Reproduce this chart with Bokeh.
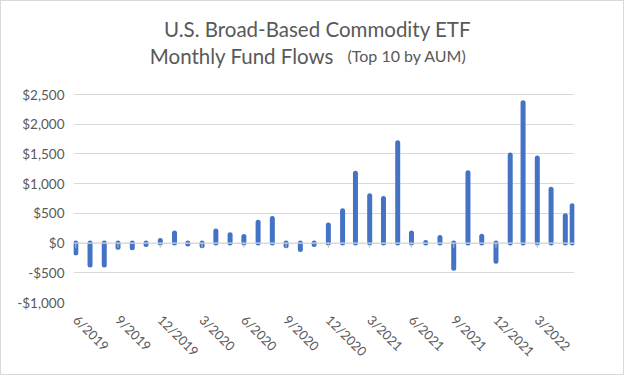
import math
import pandas as pd
from bokeh.plotting import figure
from bokeh.models import Range1d, FixedTicker, NumeralTickFormatter, Span, Label
from bokeh.embed import file_html
from bokeh.resources import INLINE

# ---- data ----
dates = ["2019-06-30", "2019-07-31", "2019-08-31", "2019-09-30", "2019-10-31", "2019-11-30", "2019-12-31",
         "2020-01-31", "2020-02-29", "2020-03-31", "2020-04-30", "2020-05-31", "2020-06-30", "2020-07-31",
         "2020-08-31", "2020-09-30", "2020-10-31", "2020-11-30", "2020-12-31", "2021-01-31", "2021-02-28",
         "2021-03-31", "2021-04-30", "2021-05-31", "2021-06-30", "2021-07-31", "2021-08-31", "2021-09-30",
         "2021-10-31", "2021-11-30", "2021-12-31", "2022-01-31", "2022-02-28", "2022-03-31", "2022-04-30",
         "2022-05-31", "2022-06-15"]
flows = [-165, -370, -370, -70, -80, -25, 45, 170, -15, -45, 205, 140, 110, 350, 415, -45, -110, -25,
         305, 545, 1175, 795, 750, 1690, 170, 10, 95, -425, 1185, 115, -305, 1480, 2360, 1430, 905, 460, 630]
tick_labels = ["6/2019", "9/2019", "12/2019", "3/2020", "6/2020", "9/2020", "12/2020",
               "3/2021", "6/2021", "9/2021", "12/2021", "3/2022"]
y_ticks = [-1000, -500, 0, 500, 1000, 1500, 2000, 2500]

title1 = "U.S. Broad-Based Commodity ETF"
title2a = "Monthly Fund Flows"
title2b = "(Top 10 by AUM)"

# ---- derived ----
d = pd.to_datetime(dates)
xdays = [int((t - d[0]).days) for t in d]
tick_pos = xdays[::3][:len(tick_labels)]

BLUE = "#4472C4"
GRID = "#d9d9d9"
TXT = "#595959"
FONT = "Lato"

# layout: frame reaches the top so the title can sit inside it
FRAME_H = 301
Y_MIN, Y_MAX_TICK = -1000, 2500
px_per_unit = 208 / (Y_MAX_TICK - Y_MIN)
y_top = Y_MAX_TICK + 93 / px_per_unit

pad = 5
p = figure(output_backend="svg", toolbar_location=None,
           x_range=Range1d(xdays[0] - pad, xdays[-1] + pad),
           y_range=Range1d(Y_MIN, y_top),
           frame_width=501, frame_height=FRAME_H,
           min_border_left=72, min_border_right=49, min_border_top=0, min_border_bottom=72)
p.outline_line_color = None
p.background_fill_color = "white"
p.border_fill_color = "white"
p.styles = {"border": "1px solid #d9d9d9"}

# bars (rounded ends)
p.segment(x0=xdays, y0=[0] * len(flows), x1=xdays, y1=flows,
          line_color=BLUE, line_width=5, line_cap="round")

# zero axis line and small ticks drawn over the bars
p.add_layout(Span(location=0, dimension="width", line_color=GRID, line_width=1.2))
tk = p.segment(x0=tick_pos, y0=[0] * len(tick_pos), x1=tick_pos, y1=[-80] * len(tick_pos),
               line_color="#bfbfbf", line_width=1)
tk.level = "overlay"

# axes
p.xgrid.grid_line_color = None
p.ygrid.grid_line_color = GRID
p.ygrid.grid_line_width = 1
p.ygrid.ticker = FixedTicker(ticks=y_ticks)

p.yaxis.ticker = FixedTicker(ticks=y_ticks)
p.yaxis.formatter = NumeralTickFormatter(format="$0,0")
p.yaxis.axis_line_color = None
p.yaxis.major_tick_line_color = None
p.yaxis.minor_tick_line_color = None
p.yaxis.major_label_standoff = 3
p.yaxis.major_label_text_font = FONT
p.yaxis.major_label_text_font_size = "13.5px"
p.yaxis.major_label_text_color = TXT

p.xaxis.ticker = FixedTicker(ticks=tick_pos)
p.xaxis.major_label_overrides = {pos: lab for pos, lab in zip(tick_pos, tick_labels)}
p.xaxis.axis_line_color = None
p.xaxis.major_tick_line_color = None
p.xaxis.minor_tick_line_color = None
p.xaxis.major_label_orientation = -math.pi / 4
p.xaxis.major_label_standoff = 9
p.xaxis.major_label_text_font = FONT
p.xaxis.major_label_text_font_size = "13px"
p.xaxis.major_label_text_color = TXT

# titles
p.add_layout(Label(x=244, y=274, x_units="screen", y_units="screen", text=title1,
                   text_align="center", text_baseline="alphabetic",
                   text_font=FONT, text_font_size="20.5px", text_color=TXT))
p.add_layout(Label(x=76.3, y=247, x_units="screen", y_units="screen", text=title2a,
                   text_align="left", text_baseline="alphabetic",
                   text_font=FONT, text_font_size="20.5px", text_color=TXT))
p.add_layout(Label(x=274, y=247, x_units="screen", y_units="screen", text=title2b,
                   text_align="left", text_baseline="alphabetic",
                   text_font=FONT, text_font_size="16px", text_color=TXT))

open("out.html", "w").write(file_html(p, INLINE))
